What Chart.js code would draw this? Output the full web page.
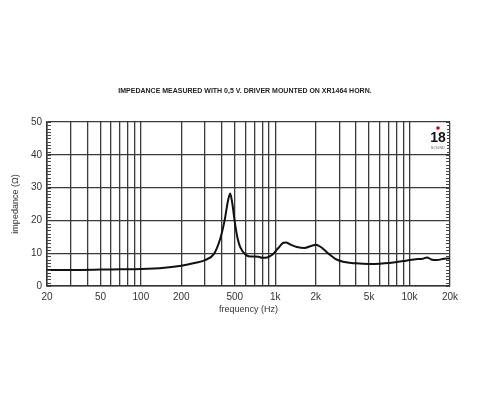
<!DOCTYPE html>
<html>
<head>
<meta charset="utf-8">
<script src="https://cdn.jsdelivr.net/npm/chart.js@4.4.0/dist/chart.umd.min.js"></script>
<style>
  html, body { margin: 0; padding: 0; background: #fff; }
  #wrap { width: 500px; height: 400px; }
</style>
</head>
<body>
<div id="wrap"><canvas id="chart"></canvas></div>
<script>
// datos
const chartTitle = 'IMPEDANCE MEASURED WITH 0,5 V. DRIVER MOUNTED ON XR1464 HORN.';
const frequencies = [20, 30, 50, 70, 100, 150, 200, 250, 300, 350, 390, 420, 445, 462, 480, 500, 525, 550, 600, 650, 700, 750, 800, 870, 950, 1050, 1150, 1200, 1300, 1450, 1650, 1850, 2000, 2200, 2500, 2800, 3200, 4000, 5000, 6000, 7000, 8000, 9000, 10000, 11500, 12500, 13500, 14500, 16000, 18000, 20000];
const impedance = [4.9, 4.9, 5.0, 5.1, 5.2, 5.6, 6.2, 7.0, 7.9, 9.8, 14.5, 20, 26, 28.2, 25, 19.5, 14.5, 11.8, 9.6, 9.0, 9.0, 8.9, 8.6, 8.7, 9.5, 11.5, 13.2, 13.3, 12.6, 11.9, 11.6, 12.2, 12.6, 11.8, 9.8, 8.3, 7.4, 6.9, 6.7, 6.8, 7.0, 7.3, 7.6, 7.9, 8.2, 8.3, 8.7, 8.1, 7.9, 8.3, 8.4];

const gridFreqs = [20, 30, 40, 50, 60, 70, 80, 90, 100, 200, 300, 400, 500, 600, 700, 800, 900, 1000, 2000, 3000, 4000, 5000, 6000, 7000, 8000, 9000, 10000, 20000];
const freqLabels = { 20: '20', 50: '50', 100: '100', 200: '200', 500: '500', 1000: '1k', 2000: '2k', 5000: '5k', 10000: '10k', 20000: '20k' };
const yTicks = [0, 10, 20, 30, 40, 50];

const points = frequencies.map((f, i) => ({ x: f, y: impedance[i] }));

// titulo, marcas menores y logo
const extras = {
  id: 'extras',
  beforeDraw(chart) {
    const { ctx } = chart;
    ctx.save();
    ctx.fillStyle = '#222';
    ctx.font = 'bold 7px "Liberation Sans"';
    ctx.textAlign = 'center';
    ctx.textBaseline = 'middle';
    ctx.fillText(chartTitle, 245, 91);
    ctx.restore();
  },
  afterDatasetsDraw(chart) {
    const { ctx, chartArea, scales } = chart;
    ctx.save();
    ctx.strokeStyle = '#444';
    ctx.lineWidth = 1;
    for (let v = 0; v <= 50; v++) {
      const y = Math.round(scales.y.getPixelForValue(v)) + 0.5;
      ctx.beginPath();
      ctx.moveTo(chartArea.left, y);
      ctx.lineTo(chartArea.left + 4, y);
      ctx.moveTo(chartArea.right - 4, y);
      ctx.lineTo(chartArea.right, y);
      ctx.stroke();
    }
    // logo 18 sound
    const lx = chartArea.right - 12;
    const ly = chartArea.top + 6;
    ctx.fillStyle = '#fff';
    ctx.fillRect(lx - 9, ly - 4, 18, 30);
    ctx.fillStyle = '#d00';
    ctx.beginPath();
    ctx.arc(lx, ly, 1.8, 0, Math.PI * 2);
    ctx.fill();
    ctx.fillStyle = '#111';
    ctx.font = 'bold 14px "Liberation Sans Narrow", "Liberation Sans"';
    ctx.textAlign = 'center';
    ctx.textBaseline = 'middle';
    ctx.fillText('18', lx, ly + 10);
    ctx.font = '4px "Liberation Sans"';
    ctx.fillStyle = '#666';
    ctx.fillText('SOUND', lx, ly + 20);
    ctx.restore();
  }
};

new Chart(document.getElementById('chart'), {
  type: 'scatter',
  data: {
    datasets: [{
      data: points,
      showLine: true,
      borderColor: '#111',
      borderWidth: 2,
      pointRadius: 0,
      tension: 0.4,
      cubicInterpolationMode: 'monotone'
    }]
  },
  options: {
    responsive: true,
    maintainAspectRatio: false,
    animation: false,
    layout: { padding: { top: 122, left: 6, right: 50, bottom: 81 } },
    plugins: {
      legend: { display: false },
      tooltip: { enabled: false },
      title: { display: false }
    },
    scales: {
      x: {
        type: 'logarithmic',
        min: 20,
        max: 20000,
        afterBuildTicks: scale => { scale.ticks = gridFreqs.map(v => ({ value: v })); },
        afterFit: scale => { scale.height = 33; },
        border: { color: '#333', width: 1.5 },
        grid: { color: '#3a3a3a', lineWidth: 1.3, drawTicks: false },
        ticks: {
          autoSkip: false,
          maxRotation: 0,
          padding: 5,
          color: '#333',
          font: { family: '"Liberation Sans"', size: 10 },
          callback: v => freqLabels[v] || ''
        },
        title: {
          display: true,
          text: 'frequency (Hz)',
          color: '#333',
          font: { family: '"Liberation Sans"', size: 9 }
        }
      },
      y: {
        min: 0,
        max: 50,
        afterBuildTicks: scale => { scale.ticks = yTicks.map(v => ({ value: v })); },
        afterFit: scale => { scale.width = 41; },
        border: { color: '#333', width: 1.5 },
        grid: { color: '#3a3a3a', lineWidth: 1.3, drawTicks: false },
        ticks: {
          padding: 5,
          color: '#333',
          font: { family: '"Liberation Sans"', size: 10 }
        },
        title: {
          display: true,
          text: 'impedance (Ω)',
          color: '#333',
          font: { family: '"Liberation Sans"', size: 9 }
        }
      }
    }
  },
  plugins: [extras]
});
</script>
</body>
</html>
